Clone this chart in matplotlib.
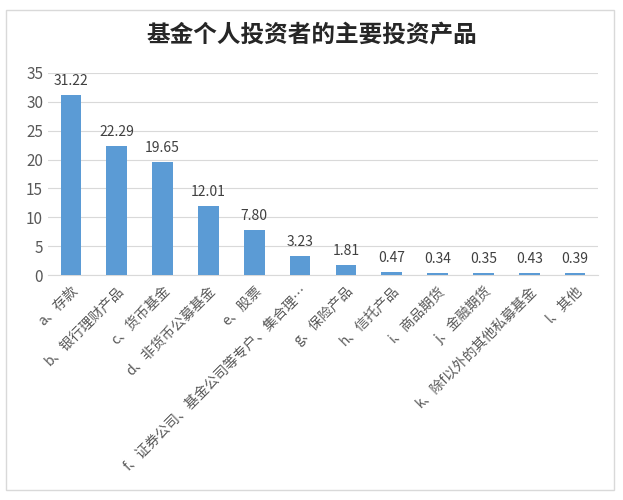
import matplotlib.pyplot as plt

plt.rcParams['font.family'] = ['Noto Sans CJK SC', 'DejaVu Sans']

labels = ['a、存款', 'b、银行理财产品', 'c、货币基金', 'd、非货币公募基金', 'e、股票',
          'f、证券公司、基金公司等专户、集合理…', 'g、保险产品', 'h、信托产品', 'i、商品期货',
          'j、金融期货', 'k、除f以外的其他私募基金', 'l、其他']
values = [31.22, 22.29, 19.65, 12.01, 7.80, 3.23, 1.81, 0.47, 0.34, 0.35, 0.43, 0.39]
value_text = ['31.22', '22.29', '19.65', '12.01', '7.80', '3.23', '1.81', '0.47', '0.34', '0.35', '0.43', '0.39']

fig = plt.figure(figsize=(6.23, 5.0), dpi=100)
ax = fig.add_axes([0.077, 0.45, 0.883, 0.404])
fig.patches.append(plt.Rectangle((0.01, 0.02), 0.975, 0.96, transform=fig.transFigure,
                                 fill=False, ec='#d9d9d9', lw=1))

x = range(len(values))
bars = ax.bar(x, values, width=0.45, color='#5b9bd5', zorder=3)
for b, t in zip(bars, value_text):
    ax.text(b.get_x() + b.get_width() / 2, b.get_height() + 1.2, t,
            ha='center', va='bottom', fontsize=10, color='#404040')

ax.set_ylim(0, 35)
ax.set_yticks(range(0, 36, 5))
ax.set_xlim(-0.5, len(values) - 0.5)
ax.set_xticks(list(x))
ax.set_xticklabels(labels, rotation=45, ha='right', rotation_mode='anchor',
                   fontsize=10, color='#595959')
ax.tick_params(axis='y', length=0, labelsize=11, labelcolor='#595959')
ax.tick_params(axis='x', length=0, pad=6)
ax.grid(axis='y', color='#d9d9d9', lw=0.8, zorder=0)
for s in ['top', 'right', 'left']:
    ax.spines[s].set_visible(False)
ax.spines['bottom'].set_color('#d9d9d9')

fig.text(0.5, 0.93, '基金个人投资者的主要投资产品', ha='center', va='center',
         fontsize=17, fontweight='bold', color='#262626')

fig.savefig('out.png')
